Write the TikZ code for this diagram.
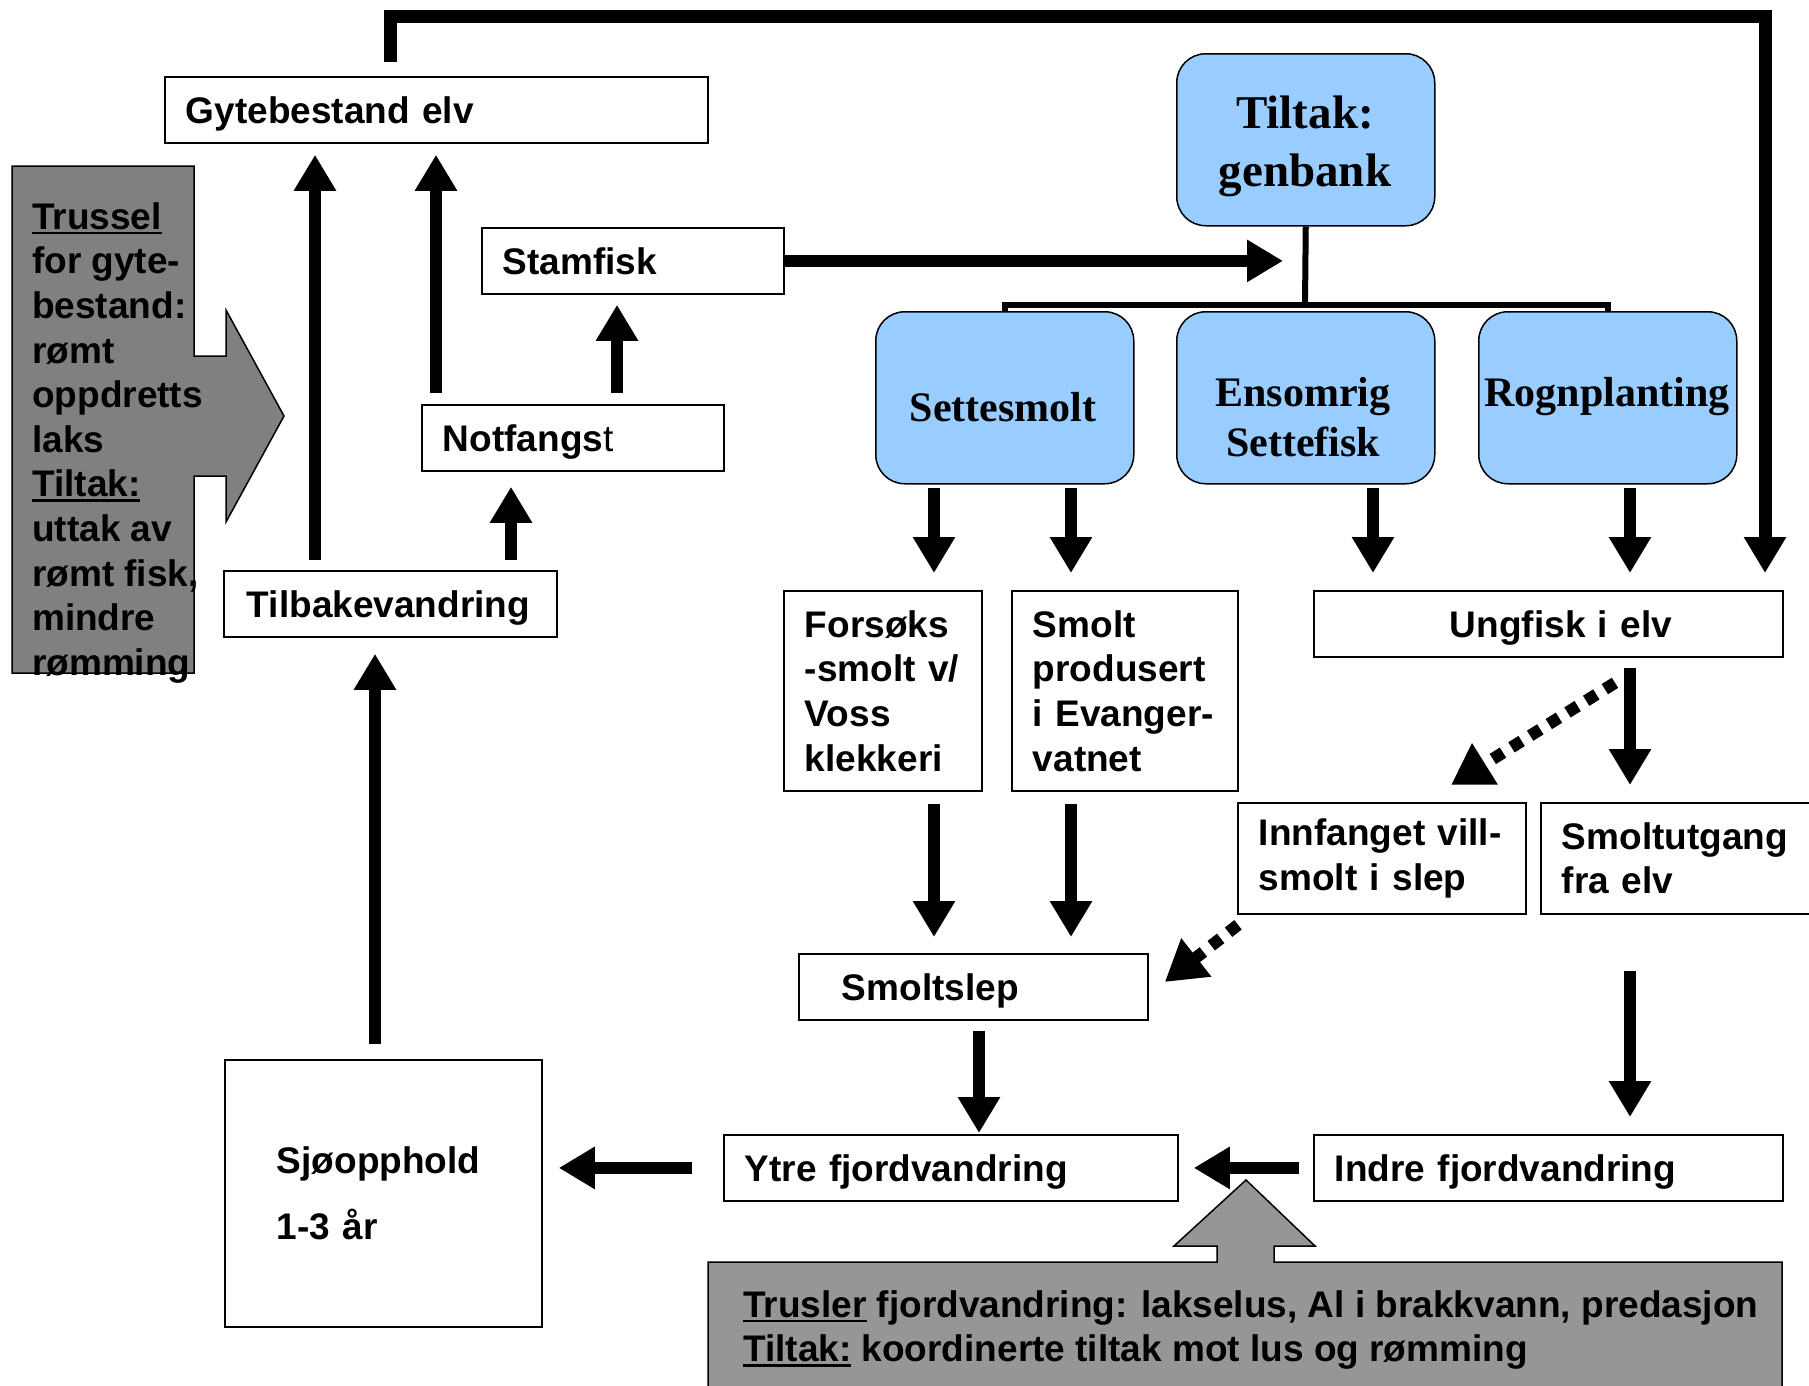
\documentclass[tikz,border=0pt]{standalone}
\usepackage{fontspec}
\setmainfont{Liberation Sans}
\newfontfamily\timesf{Liberation Serif}
\usetikzlibrary{arrows.meta}
\definecolor{blueA}{RGB}{153,204,255}
\definecolor{grayA}{RGB}{128,128,128}
\definecolor{grayB}{RGB}{150,150,150}
\newcommand\sfb{\fontsize{37}{44.6}\selectfont\bfseries}
\newcommand\tbA{\timesf\fontsize{47}{58}\selectfont\bfseries}
\newcommand\tbB{\timesf\fontsize{42}{50}\selectfont\bfseries}
\newcommand\bt[2]{\leftskip=#1\relax #2\par}
\newcommand\myul[1]{\setbox0\hbox{#1}\rlap{\rule[-5pt]{\wd0}{2.5pt}}\box0\relax}
\begin{document}
\begin{tikzpicture}[x=1pt,y=-1pt,
  wbox/.style={draw, line width=1.8pt, fill=white, inner sep=0pt, anchor=north west, font=\sfb, align=left},
  wone/.style={wbox, text depth=0pt, minimum height=66pt},
  bbox/.style={draw, line width=1.5pt, fill=blueA, rounded corners=29pt, minimum width=258pt, minimum height=172pt, anchor=north west, inner sep=0pt},
  btA/.style={font=\tbA, align=center, inner sep=0pt},
  btB/.style={font=\tbB, align=center, inner sep=0pt},
  thk/.style={line width=12pt, -{Triangle[width=40pt,length=36pt]}},
  dotarr/.style={line width=12pt, dash pattern=on 12pt off 10pt, -{Triangle[width=46pt,length=40pt]}},
  feedback/.style={line width=13pt, line join=miter, -{Triangle[width=40pt,length=36pt]}},
  tree/.style={line width=6pt},
  gshape/.style={draw, line width=1.5pt, line join=miter}
]
\useasboundingbox (0,0) rectangle (1809,1385);

% grey threat shapes
\draw[gshape, fill=grayA] (12,166) -- (194,166) -- (194,356) -- (226,356) -- (226,310) -- (284,416) -- (226,522) -- (226,476) -- (194,476) -- (194,673) -- (12,673) -- cycle;
\node[anchor=north west, inner sep=0pt, font=\sfb, align=left] (trtx) at (32,199)
 {\rule{0pt}{30pt}\myul{Trussel}\\for gyte-\\bestand:\\rømt\\oppdretts\\laks\\\myul{Tiltak:}\\uttak av\\rømt fisk,\\mindre\\rømming};

\draw[gshape, fill=grayB] (708,1400) -- (708,1262) -- (1217,1262) -- (1217,1246) -- (1174,1246) -- (1246,1180) -- (1315,1246) -- (1274,1246) -- (1274,1262) -- (1782,1262) -- (1782,1400) -- cycle;
\node[anchor=north west, inner sep=0pt, font=\sfb, align=left] (fjtx) at (743,1287)
 {\rule{0pt}{30pt}\myul{Trusler} fjordvandring: lakselus, Al i brakkvann, predasjon\\\myul{Tiltak:} koordinerte tiltak mot lus og rømming};

% white boxes
\node[wone, minimum width=543pt, text width=543pt] (gyte) at (164,76) {\bt{21pt}{Gytebestand elv}};
\node[wone, minimum width=302pt, text width=302pt] (stam) at (481,227) {\bt{21pt}{Stamfisk}};
\node[wone, minimum width=302pt, text width=302pt] (notf) at (421,404) {\bt{21pt}{Notfangs\textmd{t}}};
\node[wone, minimum width=333pt, text width=333pt] (tilb) at (223,570) {\bt{23pt}{Tilbakevandring}};
\node[wbox, minimum width=317pt, text width=317pt, minimum height=267pt] (sjo) at (224,1059) {\bt{52pt}{Sjøopphold\\[21.4pt]1-3 år}};
\node[wone, minimum width=454pt, text width=454pt] (ytre) at (723,1134) {\bt{21pt}{Ytre fjordvandring}};
\node[wone, minimum width=469pt, text width=469pt] (indre) at (1313,1134) {\bt{21pt}{Indre fjordvandring}};
\node[wone, minimum width=349pt, text width=349pt] (slep) at (798,953) {\bt{43pt}{Smoltslep}};
\node[wbox, minimum width=198pt, text width=198pt, minimum height=200pt] (fors) at (783,590) {\bt{21pt}{Forsøks\\-smolt v/\\Voss\\klekkeri}};
\node[wbox, minimum width=226pt, text width=226pt, minimum height=200pt] (smprod) at (1011,590) {\bt{21pt}{Smolt\\produsert\\i Evanger-\\vatnet}};
\node[wone, minimum width=469pt, text width=469pt] (ungf) at (1313,590) {\bt{136pt}{Ungfisk i elv}};
\node[wbox, minimum width=288pt, text width=288pt, minimum height=111pt] (innf) at (1237,802) {\bt{21pt}{Innfanget vill-\\smolt i slep}};
\node[wbox, minimum width=290pt, text width=290pt, minimum height=111pt] (smu) at (1540,802) {\bt{21pt}{Smoltutgang\\fra elv}};

% blue boxes
\node[bbox] (gen) at (1176,53) {};
\node[bbox] (sette) at (875,311) {};
\node[bbox] (ens) at (1176,311) {};
\node[bbox] (rogn) at (1478,311) {};
\node[btA] (gentx) at (1305,146) {Tiltak:\\genbank};
\node[btB] (settx) at (1003,407) {Settesmolt};
\node[btB] (enstx) at (1303,417) {Ensomrig\\Settefisk};
\node[btB] (rogtx) at (1607,397) {Rognplanting};

% genbank tree
\coordinate (tj) at (1305,305);
\draw[tree] (gen.south) -- (tj);
\draw[tree] (sette.north) |- (tj) -| (rogn.north);

% stamfisk to genbank
\coordinate (stamtip) at (1283,258);
\draw[thk] (stam.east) -- (stam.east -| stamtip);

% feedback loop
\draw[feedback, shorten >=17pt] ([xshift=226pt,yshift=14pt]gyte.north west) -- ++(0,-46) -| ([xshift=452pt]ungf.north west);

% main arrows
\draw[thk, shorten <=10pt, shorten >=11pt] ([xshift=92pt]tilb.north west) -- ([xshift=151pt]gyte.south west);
\draw[thk, shorten <=11pt, shorten >=11pt] ([xshift=15pt]notf.north west) -- ([xshift=272pt]gyte.south west);
\draw[thk, shorten <=11pt, shorten >=10pt] ([xshift=196pt]notf.north west) -- ([xshift=136pt]stam.south west);
\draw[thk, shorten <=10pt, shorten >=15pt] ([xshift=288pt]tilb.north west) -- ([xshift=90pt]notf.south west);
\draw[thk, shorten <=15pt, shorten >=16pt] ([xshift=151pt]sjo.north west) -- ([xshift=152pt]tilb.south west);
\draw[thk, shorten <=31pt, shorten >=16pt] (ytre.west) -- (ytre.west -| sjo.east);
\draw[thk, shorten <=14pt, shorten >=15pt] (indre.west) -- (ytre.east);
\draw[thk, shorten <=10pt, shorten >=1pt] ([xshift=181pt]slep.south west) -- ([xshift=256pt]ytre.north west);
\draw[thk, shorten <=12pt, shorten >=16pt] ([xshift=151pt]fors.south west) -- ([xshift=136pt]slep.north west);
\draw[thk, shorten <=12pt, shorten >=16pt] ([xshift=60pt]smprod.south west) -- ([xshift=273pt]slep.north west);
\draw[thk, shorten <=3pt, shorten >=17pt] ([xshift=59pt]sette.south west) -- ([xshift=151pt]fors.north west);
\draw[thk, shorten <=3pt, shorten >=17pt] ([xshift=196pt]sette.south west) -- ([xshift=60pt]smprod.north west);
\draw[thk, shorten <=3pt, shorten >=17pt] ([xshift=197pt]ens.south west) -- ([xshift=60pt]ungf.north west);
\draw[thk, shorten <=3pt, shorten >=17pt] ([xshift=152pt]rogn.south west) -- ([xshift=317pt]ungf.north west);
\draw[thk, shorten <=10pt, shorten >=17pt] ([xshift=317pt]ungf.south west) -- ([xshift=90pt]smu.north west);
\draw[thk, shorten <=56pt, shorten >=17pt] ([xshift=90pt]smu.south west) -- ([xshift=317pt]indre.north west);

% dotted arrows
\coordinate (d1s) at ([xshift=302pt,yshift=-25pt]ungf.south west);
\coordinate (d1e) at ([xshift=214pt,yshift=17pt]innf.north west);
\draw[dotarr] (d1s) -- (d1e);
\coordinate (d2s) at ([xshift=1pt,yshift=-10pt]innf.south west);
\coordinate (d2e) at ([xshift=16pt,yshift=-29pt]slep.north east);
\draw[dotarr] (d2s) -- (d2e);
\end{tikzpicture}
\end{document}
